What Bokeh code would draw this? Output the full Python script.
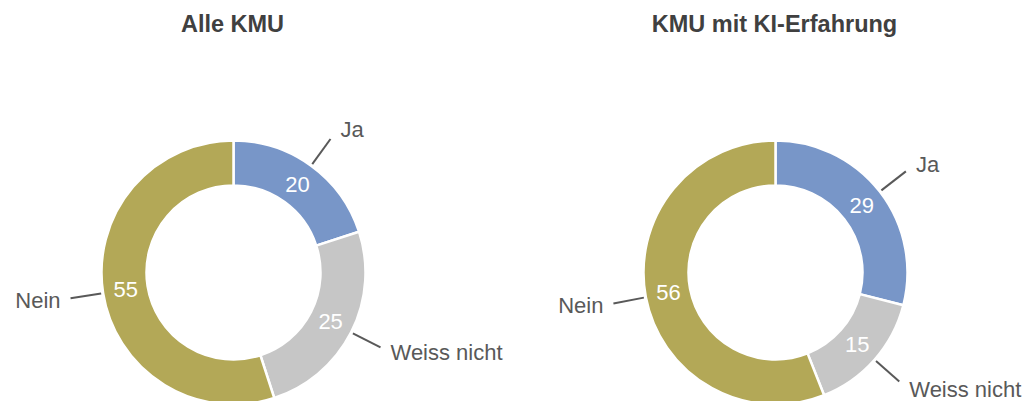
import numpy as np
from bokeh.plotting import figure
from bokeh.models import Range1d, ColumnDataSource
from bokeh.core.properties import value
from bokeh.embed import file_html
from bokeh.resources import INLINE

# ---- data ----
categories = ["Ja", "Weiss nicht", "Nein"]
colors = ["#7896C8", "#C6C6C6", "#B3A857"]
titles = ["Alle KMU", "KMU mit KI-Erfahrung"]
values_alle = [20, 25, 55]
values_ki = [29, 15, 56]

# ---- layout ----
W, H = 1035, 401
centers = [(233, H - 272), (775, H - 272)]
R_OUT, R_IN = 132, 87
R_VAL = 109
R_L1, R_L2 = 134, 165
FONT = "Liberation Sans"
LABEL_COLOR = "#595959"

p = figure(width=W, height=H, x_range=Range1d(0, W), y_range=Range1d(0, H),
           output_backend="svg", toolbar_location=None, min_border=0,
           x_axis_location=None, y_axis_location=None)
p.grid.visible = False
p.outline_line_color = None
p.background_fill_color = "white"
p.border_fill_color = "white"

for (cx, cy), title, vals in zip(centers, titles, [values_alle, values_ki]):
    vals = np.array(vals, dtype=float)
    frac = vals / vals.sum()
    cum = np.concatenate([[0], np.cumsum(frac)])
    start = np.pi / 2 - cum[:-1] * 2 * np.pi
    end = np.pi / 2 - cum[1:] * 2 * np.pi
    mid = (start + end) / 2
    src = ColumnDataSource(dict(start=start, end=end, color=colors,
                                x=[cx] * 3, y=[cy] * 3))
    p.annular_wedge(x="x", y="y", inner_radius=R_IN, outer_radius=R_OUT,
                    start_angle="start", end_angle="end", direction="clock",
                    fill_color="color", line_color="white", line_width=2.5,
                    source=src)
    # values inside ring
    vx = cx + R_VAL * np.cos(mid)
    vy = cy + R_VAL * np.sin(mid)
    p.text(x=vx, y=vy, text=[str(int(v)) for v in vals],
           text_color="white", text_font=value(FONT), text_font_size="22px",
           text_align="center", text_baseline="middle")
    # leader lines + category labels
    x1 = cx + R_L1 * np.cos(mid)
    y1 = cy + R_L1 * np.sin(mid)
    x2 = cx + R_L2 * np.cos(mid)
    y2 = cy + R_L2 * np.sin(mid)
    p.segment(x0=x1, y0=y1, x1=x2, y1=y2, line_color=LABEL_COLOR, line_width=2)
    right = np.cos(mid) >= 0
    tx = x2 + np.where(right, 10, -10)
    ty = y2 + 12 * np.sin(mid)
    for i in range(3):
        p.text(x=[tx[i]], y=[ty[i]], text=[categories[i]],
               text_color=LABEL_COLOR, text_font=value(FONT),
               text_font_size="22px",
               text_align="left" if right[i] else "right",
               text_baseline="middle")
    # title
    p.text(x=[cx - 1], y=[H - 23], text=[title], text_color="#404040",
           text_font=value(FONT), text_font_style="bold",
           text_font_size="23.5px", text_align="center", text_baseline="middle")

open("out.html", "w").write(file_html(p, INLINE))
